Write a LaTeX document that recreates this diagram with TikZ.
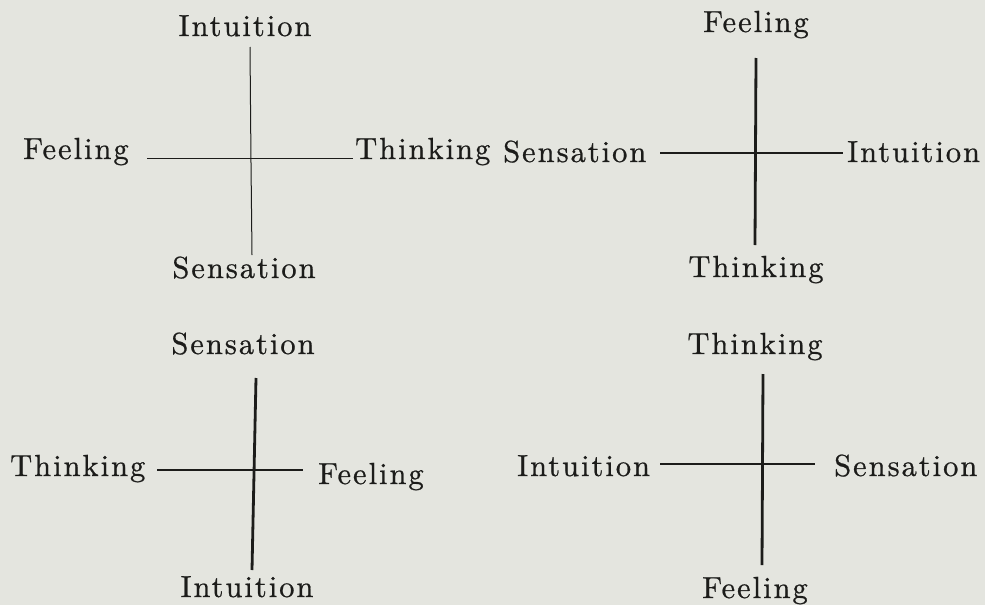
\documentclass[tikz,border=0pt]{standalone}
\usepackage{fontspec}
\setmainfont{lmroman10-regular}[Extension=.otf, LetterSpace=6.5, FakeBold=0.7]
\usepackage{tikz}
\usetikzlibrary{positioning}

\definecolor{paper}{RGB}{228,229,223}
\definecolor{ink}{RGB}{28,28,26}

\begin{document}
\begin{tikzpicture}[
        x=1pt,
        y=-1pt,
        font=\fontsize{30.5}{36}\selectfont,
        lab/.style={inner sep=0pt, text=ink},
        thin axis/.style={draw=ink, line width=1pt},
        bold axis/.style={draw=ink, line width=2.8pt},
        flat axis/.style={draw=ink, line width=1.8pt}
    ]
        \fill[paper] (0,0) rectangle (985,605);
        \useasboundingbox (0,0) rectangle (985,605);

        % upper left
        \node[lab, anchor=base] (in1) at (245,36) {Intuition};
        \node[lab, anchor=base west] (fe1) at (23,159) {Feeling};
        \node[lab, anchor=base west] (th1) at (355,159) {Thinking};
        \node[lab, anchor=base] (se1) at (244,278) {Sensation};
        \coordinate (a1n) at (250,47);
        \coordinate (a1c) at (251,163);
        \coordinate (a1s) at (252,255);
        \coordinate (a1w) at (147,158);
        \coordinate (a1e) at (353,158);
        \draw[thin axis] (a1n) -- (a1c) -- (a1s);
        \draw[thin axis] (a1w) -- (a1e);

        % upper right
        \node[lab, anchor=base] (fe2) at (756,32) {Feeling};
        \node[lab, anchor=base west] (se2) at (503,162) {Sensation};
        \node[lab, anchor=base west] (in2) at (847,162) {Intuition};
        \node[lab, anchor=base] (th2) at (756,277) {Thinking};
        \coordinate (a2n) at (756,58);
        \coordinate (a2s) at (755,245);
        \coordinate (a2w) at (660,153);
        \coordinate (a2e) at (843,153);
        \draw[bold axis] (a2n) -- (a2s);
        \draw[flat axis] (a2w) -- (a2e);

        % lower left
        \node[lab, anchor=base] (se3) at (243,354) {Sensation};
        \node[lab, anchor=base west] (th3) at (10,476) {Thinking};
        \node[lab, anchor=base west] (fe3) at (318,484) {Feeling};
        \node[lab, anchor=base] (in3) at (247,597) {Intuition};
        \coordinate (a3n) at (256,378);
        \coordinate (a3s) at (252,570);
        \coordinate (a3w) at (157,470);
        \coordinate (a3e) at (303,470);
        \draw[bold axis] (a3n) -- (a3s);
        \draw[bold axis] (a3w) -- (a3e);

        % lower right
        \node[lab, anchor=base] (th4) at (755,354) {Thinking};
        \node[lab, anchor=base west] (in4) at (517,476) {Intuition};
        \node[lab, anchor=base west] (se4) at (834,476) {Sensation};
        \node[lab, anchor=base] (fe4) at (755,598) {Feeling};
        \coordinate (a4n) at (763,374);
        \coordinate (a4s) at (762,565);
        \coordinate (a4w) at (660,464);
        \coordinate (a4e) at (815,464);
        \draw[bold axis] (a4n) -- (a4s);
        \draw[flat axis] (a4w) -- (a4e);
    \end{tikzpicture}
\end{document}
